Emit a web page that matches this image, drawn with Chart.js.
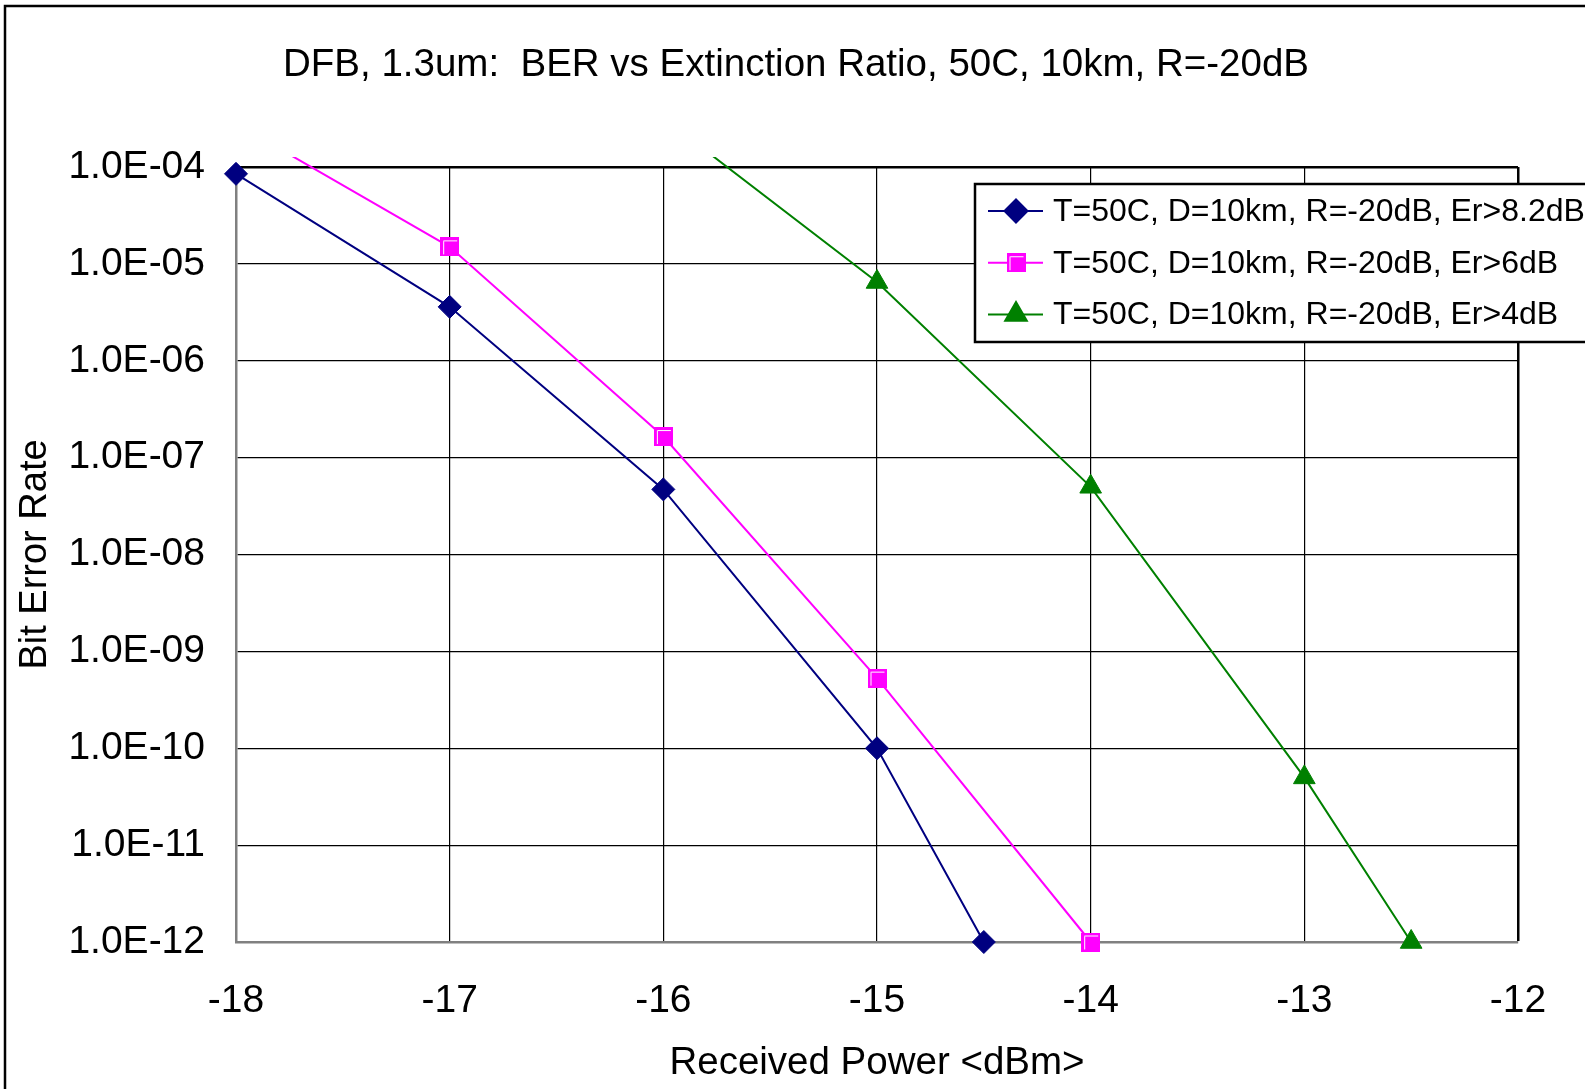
<!DOCTYPE html>
<html>
<head>
<meta charset="utf-8">
<title>BER vs Extinction Ratio</title>
<script src="https://cdn.jsdelivr.net/npm/chart.js@4.4.1/dist/chart.umd.min.js"></script>
<style>
  html, body { margin: 0; padding: 0; background: #fff; }
  #wrap { width: 1585px; height: 1089px; }
</style>
</head>
<body>
<div id="wrap"><canvas id="berChart" width="1585" height="1089"></canvas></div>
<script>
//////////////////// Data ////////////////////
const chartTitle = 'DFB, 1.3um:  BER vs Extinction Ratio, 50C, 10km, R=-20dB';
const xAxisTitle = 'Received Power <dBm>';
const yAxisTitle = 'Bit Error Rate';

// axis ticks
const powerTicks = [-18, -17, -16, -15, -14, -13, -12];
const berTicks = [1e-12, 1e-11, 1e-10, 1e-9, 1e-8, 1e-7, 1e-6, 1e-5, 1e-4];

// series
const seriesLabels = [
  'T=50C, D=10km, R=-20dB, Er>8.2dB',
  'T=50C, D=10km, R=-20dB, Er>6dB',
  'T=50C, D=10km, R=-20dB, Er>4dB'
];
const powerEr82 = [-18, -17, -16, -15, -14.5];
const berEr82 = [8.5e-5, 3.6e-6, 4.7e-8, 1.0e-10, 1.0e-12];
const powerEr6 = [-18, -17, -16, -15, -14];
const berEr6 = [2.8e-4, 1.5e-5, 1.65e-7, 5.3e-10, 1.0e-12];
const powerEr4 = [-16, -15, -14, -13, -12.5];
const berEr4 = [3.2e-4, 6.5e-6, 5.0e-8, 5.0e-11, 1.0e-12];

//////////////////// Helpers ////////////////////
const FONT = '"Liberation Sans", Arial, sans-serif';

function toPoints(xs, ys) {
  return xs.map((x, i) => ({ x: x, y: ys[i] }));
}

// 1.0E-04 style labels
function sciLabel(v) {
  const e = Math.floor(Math.log10(v) + 1e-9);
  const m = v / Math.pow(10, e);
  const sign = e < 0 ? '-' : '+';
  return m.toFixed(1) + 'E' + sign + String(Math.abs(e)).padStart(2, '0');
}

// Excel-like magenta square with white inner edge
function makeSquare() {
  const c = document.createElement('canvas');
  c.width = 19; c.height = 19;
  const g = c.getContext('2d');
  g.fillStyle = '#FF00FF';
  g.fillRect(0, 0, 19, 19);
  g.strokeStyle = '#FFFFFF';
  g.lineWidth = 1;
  g.beginPath();
  g.moveTo(3.5, 17); g.lineTo(3.5, 3.5); g.lineTo(17, 3.5);
  g.stroke();
  return c;
}
const squareMarker = makeSquare();

//////////////////// Datasets ////////////////////
const clipBox = { left: 14, top: 10, right: 14, bottom: 14 };

const datasets = [
  {
    label: seriesLabels[0],
    data: toPoints(powerEr82, berEr82),
    borderColor: '#000080',
    backgroundColor: '#000080',
    borderWidth: 2,
    pointStyle: 'rectRot',
    pointRadius: 11.5,
    pointBorderWidth: 1,
    clip: clipBox
  },
  {
    label: seriesLabels[1],
    data: toPoints(powerEr6, berEr6),
    borderColor: '#FF00FF',
    backgroundColor: '#FF00FF',
    borderWidth: 2,
    pointStyle: squareMarker,
    pointRadius: 10,
    clip: clipBox
  },
  {
    label: seriesLabels[2],
    data: toPoints(powerEr4, berEr4),
    borderColor: '#008000',
    backgroundColor: '#008000',
    borderWidth: 2,
    pointStyle: 'triangle',
    pointRadius: 12.5,
    pointBorderWidth: 1,
    clip: clipBox
  }
];

//////////////////// Plugins ////////////////////
// white page + outer frame + title
const framePlugin = {
  id: 'frame',
  beforeDraw(chart) {
    const ctx = chart.ctx;
    ctx.save();
    ctx.fillStyle = '#fff';
    ctx.fillRect(0, 0, chart.width, chart.height);
    ctx.strokeStyle = '#000';
    ctx.lineWidth = 2.5;
    ctx.strokeRect(5, 6, chart.width + 50, chart.height + 50);
    ctx.fillStyle = '#000';
    ctx.font = '38.5px ' + FONT;
    ctx.textAlign = 'center';
    ctx.textBaseline = 'middle';
    ctx.fillText(chartTitle, 796, 65);
    ctx.restore();
  }
};

// legend box inside the plot, running off the right edge like the original
const legendPlugin = {
  id: 'boxLegend',
  afterDraw(chart) {
    const ctx = chart.ctx;
    const bx = 975, by = 184, bh = 158;
    ctx.save();
    ctx.fillStyle = '#fff';
    ctx.fillRect(bx, by, chart.width, bh);
    ctx.strokeStyle = '#000';
    ctx.lineWidth = 2.5;
    ctx.strokeRect(bx, by, chart.width, bh);

    ctx.font = '32px ' + FONT;
    ctx.textAlign = 'left';
    ctx.textBaseline = 'middle';
    chart.data.datasets.forEach((ds, i) => {
      const y = 211 + i * 51.7;
      ctx.strokeStyle = ds.borderColor;
      ctx.lineWidth = 2;
      ctx.beginPath();
      ctx.moveTo(988, y);
      ctx.lineTo(1043, y);
      ctx.stroke();
      const opts = {
        pointStyle: ds.pointStyle,
        radius: ds.pointRadius,
        rotation: 0,
        borderWidth: ds.pointBorderWidth || 0
      };
      ctx.fillStyle = ds.backgroundColor;
      ctx.strokeStyle = ds.borderColor;
      if (Chart.helpers && Chart.helpers.drawPoint) {
        Chart.helpers.drawPoint(ctx, opts, 1016, y);
      }
      ctx.fillStyle = '#000';
      ctx.fillText(ds.label, 1053, y + 1);
    });
    ctx.restore();
  }
};

//////////////////// Chart ////////////////////
const plotLeft = 236, plotRight = 1518, plotTop = 167, plotBottom = 942;

new Chart(document.getElementById('berChart'), {
  type: 'line',
  data: { datasets: datasets },
  options: {
    responsive: false,
    animation: false,
    devicePixelRatio: 1,
    events: [],
    layout: {
      padding: { top: plotTop, right: 1585 - plotRight, left: 0, bottom: 0 }
    },
    plugins: {
      legend: { display: false },
      title: { display: false },
      tooltip: { enabled: false }
    },
    scales: {
      x: {
        type: 'linear',
        min: powerTicks[0],
        max: powerTicks[powerTicks.length - 1],
        afterBuildTicks: scale => {
          scale.ticks = powerTicks.map(v => ({ value: v }));
        },
        afterFit: scale => { scale.height = 1089 - plotBottom; },
        ticks: {
          padding: 36,
          color: '#000',
          font: { family: FONT, size: 39 },
          callback: v => String(v)
        },
        grid: {
          drawTicks: false,
          color: ctx => ctx.index === 0 ? '#808080' : '#000',
          lineWidth: ctx => ctx.tick && ctx.tick.value === powerTicks[powerTicks.length - 1] ? 2.5 : 1.2
        },
        border: { display: true, color: '#808080', width: 2.5 },
        title: {
          display: true,
          text: xAxisTitle,
          color: '#000',
          font: { family: FONT, size: 38.5 },
          padding: { top: 0, bottom: 3 }
        }
      },
      y: {
        type: 'logarithmic',
        min: berTicks[0],
        max: berTicks[berTicks.length - 1],
        afterBuildTicks: scale => {
          scale.ticks = berTicks.map(v => ({ value: v }));
        },
        afterFit: scale => { scale.width = plotLeft; },
        ticks: {
          padding: 31,
          color: '#000',
          font: { family: FONT, size: 39 },
          callback: v => sciLabel(v)
        },
        grid: {
          drawTicks: false,
          color: ctx => ctx.index === 0 ? '#808080' : '#000',
          lineWidth: ctx => ctx.index === berTicks.length - 1 ? 2.5 : 1.2
        },
        border: { display: true, color: '#808080', width: 2.5 },
        title: {
          display: true,
          text: yAxisTitle,
          color: '#000',
          font: { family: FONT, size: 38 },
          padding: { top: 13, bottom: 0 }
        }
      }
    }
  },
  plugins: [framePlugin, legendPlugin]
});
</script>
</body>
</html>
